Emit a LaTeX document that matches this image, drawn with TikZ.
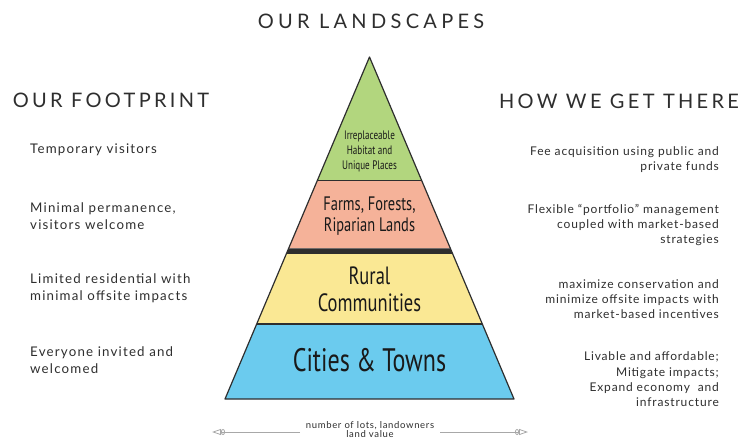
\documentclass[tikz,border=0pt]{standalone}
\usepackage{fontspec}
\setmainfont{Lato}
\newfontfamily\condfont[FakeStretch=0.74]{PT Sans}
\usetikzlibrary{arrows.meta}
\definecolor{ink}{HTML}{2E2E2E}
\definecolor{lvlgreen}{HTML}{B2D67E}
\definecolor{lvlpink}{HTML}{F5B299}
\definecolor{lvlyellow}{HTML}{FAE894}
\definecolor{lvlblue}{HTML}{6BCBEE}
\definecolor{arrgray}{HTML}{A8A8A8}
\tikzset{
  heading/.style={text=ink,inner sep=0pt,font=\fontsize{20}{22}\selectfont\addfontfeature{LetterSpace=16.5}},
  lefttxt/.style={text=ink,inner sep=0pt,anchor=west,align=left,font=\fontsize{13.3}{17}\selectfont\addfontfeature{LetterSpace=9}},
  righttxt/.style={text=ink,inner sep=0pt,anchor=east,align=right,font=\fontsize{12}{15.3}\selectfont\addfontfeature{LetterSpace=7}},
  lvllabel/.style={text=black!90,inner sep=0pt,align=center},
  band/.style={draw=ink,line width=1.2pt,line join=round},
  scalearrow/.style={draw=arrgray,line width=0.8pt,-{Ellipse[open,length=4pt,width=6pt]Triangle[open,length=9pt,width=6pt]}},
}
\begin{document}
\begin{tikzpicture}[x=1pt,y=-1pt]
\useasboundingbox (0,0) rectangle (739,439);
% pyramid coordinates
\coordinate (apex) at (369.5,57);
\coordinate (g1) at (317.2,180.7); \coordinate (g2) at (421.8,180.7);
\coordinate (p1) at (288.7,248.3); \coordinate (p2) at (450.3,248.3);
\coordinate (y0) at (286.3,254);   \coordinate (y3) at (452.7,254);
\coordinate (y1) at (256.7,324);   \coordinate (y2) at (482.3,324);
\coordinate (b1) at (225,399);     \coordinate (b2) at (514,399);
\fill[lvlgreen] (apex) -- (g2) -- (g1) -- cycle;
\fill[lvlpink] (g1) -- (g2) -- (p2) -- (p1) -- cycle;
\fill[ink] (p1) -- (p2) -- (y3) -- (y0) -- cycle;
\fill[lvlyellow] (y0) -- (y3) -- (y2) -- (y1) -- cycle;
\fill[lvlblue] (y1) -- (y2) -- (b2) -- (b1) -- cycle;
\draw[band] (g1) -- (g2);
\draw[band] (y1) -- (y2);
\draw[band] (apex) -- (b2) -- (b1) -- cycle;
% level labels
\node[lvllabel,font=\condfont\fontsize{12.3}{15}\selectfont] (habitat) at (369.5,151) {Irreplaceable\\Habitat and\\Unique Places};
\node[lvllabel,font=\condfont\fontsize{19.5}{21}\selectfont] (farms) at (369.5,216.5) {Farms, Forests,\\Riparian Lands};
\node[lvllabel,font=\condfont\fontsize{25}{27}\selectfont] (rural) at (369.5,289.5) {Rural\\Communities};
\node[lvllabel,font=\condfont\fontsize{32.5}{34}\selectfont] (cities) at (369.5,360) {Cities \& Towns};
% headings
\node[heading,font=\fontsize{20}{22}\selectfont\addfontfeature{LetterSpace=21.5}] (title) at (371,21) {OUR LANDSCAPES};
\node[heading] (footprint) at (111,100) {OUR FOOTPRINT};
\node[heading] (how) at (619,101) {HOW WE GET THERE};
% left column
\node[lefttxt] (l1) at (30,150) {Temporary visitors};
\node[lefttxt] (l2) at (30,216.5) {Minimal permanence,\\visitors welcome};
\node[lefttxt] (l3) at (30,288.5) {Limited residential with\\minimal offsite impacts};
\node[lefttxt] (l4) at (30,360.5) {Everyone invited and\\welcomed};
% right column
\node[righttxt] (r1) at (719,159.5) {Fee acquisition using public and\\private funds};
\node[righttxt] (r2) at (719,225) {Flexible ``portfolio'' management\\coupled with market-based\\strategies};
\node[righttxt] (r3) at (719,299) {maximize conservation and\\minimize offsite impacts with\\market-based incentives};
\node[righttxt] (r4) at (719,379.5) {Livable and affordable;\\Mitigate impacts;\\Expand economy~ and\\infrastructure};
% bottom scale
\node[text=ink,inner sep=0pt,align=center,font=\fontsize{9.5}{9}\selectfont\addfontfeature{LetterSpace=7},anchor=north] (scale) at (370,421) {number of lots, landowners\\land value};
\coordinate (ls) at (300,432); \coordinate (la) at (212,432);
\coordinate (rs) at (440,432); \coordinate (ra) at (528,432);
\draw[scalearrow] (ls) -- (la);
\draw[scalearrow] (rs) -- (ra);
\end{tikzpicture}
\end{document}
